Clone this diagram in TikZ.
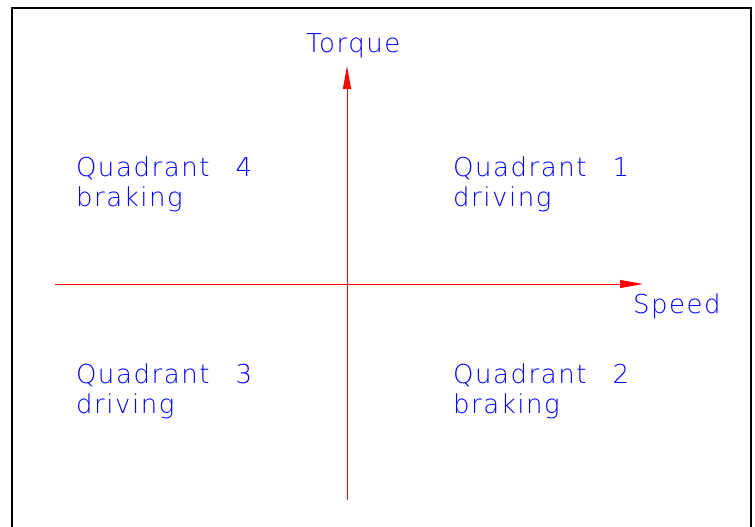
\documentclass[tikz,border=0pt]{standalone}
\usepackage{fontspec}
\newfontfamily\cadfont{DejaVu Sans ExtraLight}[LetterSpace=6]
\usetikzlibrary{arrows.meta}
\definecolor{cadblue}{RGB}{0,0,255}
\definecolor{cadred}{RGB}{255,0,0}
\tikzset{
  axis/.style={draw=cadred, line width=1pt, -{Triangle[length=23pt,width=8pt]}},
  frame/.style={draw=black, line width=2pt},
  lbl/.style={text=cadblue, font=\cadfont\fontsize{26}{30}\selectfont, anchor=base west, inner sep=0pt, outer sep=0pt},
}
\begin{document}
\begin{tikzpicture}[x=1pt,y=-1pt]
\useasboundingbox (0,0) rectangle (755,527);
\draw[frame] (12,530) -- (12,8) -- (750.5,8) -- (750.5,530);
% axes
\coordinate (xs) at (55,284);
\coordinate (xe) at (643,284);
\coordinate (ys) at (347,500);
\coordinate (ye) at (347,66);
\draw[axis] (xs) -- (xe);
\draw[axis] (ys) -- (ye);
% labels
\node[lbl] (torque) at (306,53) {Torque};
\node[lbl] (speed) at (633,313) {Speed};
\node[lbl] (q4) at (76,176) {Quadrant\hspace{1em}4};
\node[lbl] (q4b) at (76,206) {braking};
\node[lbl] (q1) at (453,176) {Quadrant\hspace{1em}1};
\node[lbl] (q1b) at (453,206) {driving};
\node[lbl] (q3) at (76,383) {Quadrant\hspace{1em}3};
\node[lbl] (q3b) at (76,413) {driving};
\node[lbl] (q2) at (453,383) {Quadrant\hspace{1em}2};
\node[lbl] (q2b) at (453,413) {braking};
\end{tikzpicture}
\end{document}
